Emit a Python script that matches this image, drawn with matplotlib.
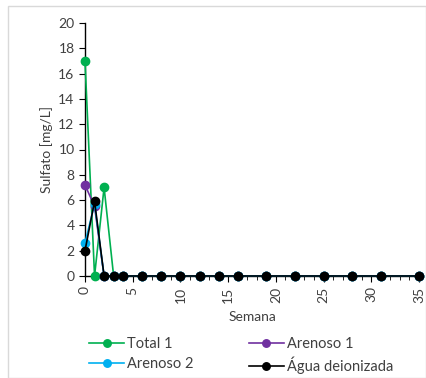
import matplotlib
matplotlib.use("Agg")
import matplotlib.pyplot as plt
from matplotlib.ticker import MultipleLocator
from matplotlib.patches import Rectangle

semanas = [0, 1, 2, 3, 4, 6, 8, 10, 12, 14, 16, 19, 22, 25, 28, 31, 35]
total1 = [17.0, 0, 7.0, 0, 0, 0, 0, 0, 0, 0, 0, 0, 0, 0, 0, 0, 0]
arenoso1 = [7.2, 5.5, 0, 0, 0, 0, 0, 0, 0, 0, 0, 0, 0, 0, 0, 0, 0]
arenoso2 = [2.6, 5.7, 0, 0, 0, 0, 0, 0, 0, 0, 0, 0, 0, 0, 0, 0, 0]
agua = [2.0, 5.9, 0, 0, 0, 0, 0, 0, 0, 0, 0, 0, 0, 0, 0, 0, 0]

series = [
    ("Total 1", total1, "#00B050"),
    ("Arenoso 1", arenoso1, "#7030A0"),
    ("Arenoso 2", arenoso2, "#00B0F0"),
    ("Água deionizada", agua, "#000000"),
]

plt.rcParams['font.family'] = ['Lato', 'DejaVu Sans']

fig = plt.figure(figsize=(4.27, 3.78), dpi=100)
W, H = 427, 378
ax = fig.add_axes([85 / W, 1 - 276 / H, (419 - 85) / W, (276 - 23) / H])

handles = {}
for name, vals, col in series:
    ln, = ax.plot(semanas, vals, color=col, marker='o', markersize=6, linewidth=1.2,
                  label=name, clip_on=False, zorder=3)
    handles[name] = ln

ax.set_xlim(0, 35)
ax.set_ylim(0, 20)
ax.xaxis.set_major_locator(MultipleLocator(5))
ax.xaxis.set_minor_locator(MultipleLocator(1))
ax.yaxis.set_major_locator(MultipleLocator(2))
for s in ['top', 'right']:
    ax.spines[s].set_visible(False)
for s in ['left', 'bottom']:
    ax.spines[s].set_linewidth(1.0)
    ax.spines[s].set_color('black')
ax.tick_params(axis='x', which='major', direction='out', length=4, labelsize=10,
               labelrotation=90, colors='black', labelcolor='#404040')
ax.tick_params(axis='x', which='minor', direction='out', length=3, colors='black')
ax.tick_params(axis='y', which='major', direction='out', length=4, labelsize=10,
               colors='black', labelcolor='#404040')
ax.set_xlabel("Semana", fontsize=10, color='#404040', labelpad=6)
ax.set_ylabel("Sulfato [mg/L]", fontsize=10, color='#404040', labelpad=4)

order = ["Total 1", "Arenoso 2", "Arenoso 1", "Água deionizada"]
fig.legend([handles[n] for n in order], order, loc='upper left',
           bbox_to_anchor=(76 / W, 1 - 324 / H), ncol=2,
           frameon=False, fontsize=10.5, handlelength=2.4, handletextpad=0.2,
           columnspacing=3.8, labelspacing=0.4, labelcolor='#404040', markerscale=0.9)

fig.patches.append(Rectangle((8 / W, 0), 1 - 9 / W, 1 - 6 / H, transform=fig.transFigure,
                             fill=False, edgecolor='#D9D9D9', linewidth=1))

fig.savefig("out.png", dpi=100)
